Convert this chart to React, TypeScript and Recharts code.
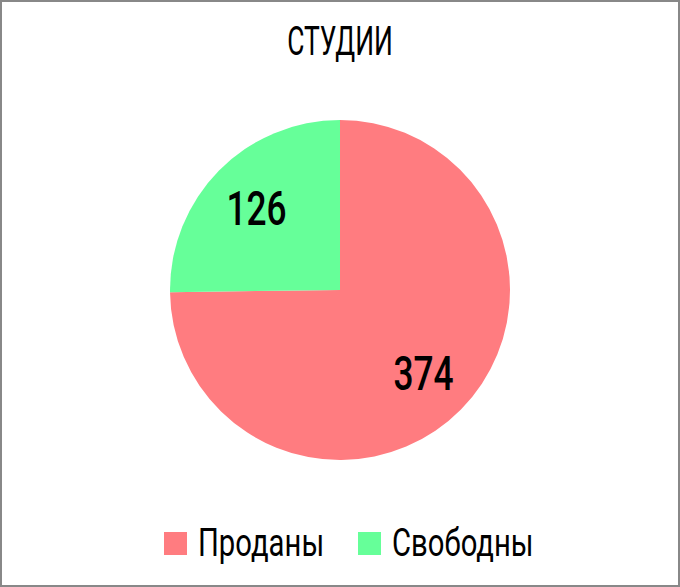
import React from 'react';
import { PieChart, Pie, Cell, Legend } from 'recharts';

const categories = ['Проданы', 'Свободны'];
const values = [374, 126];
const colors = ['#FF7C80', '#66FF99'];
const title = 'СТУДИИ';

// no condensed face installed, so Roboto gets squeezed horizontally
const FONT = 'Roboto, "DejaVu Sans", sans-serif';
const TITLE_SQUEEZE = 0.66;
const LABEL_SQUEEZE = 0.72;
const LEGEND_SQUEEZE = 0.77;
const RADIAN = Math.PI / 180;

const data = categories.map((name, i) => ({ name, value: values[i] }));

const renderLabel = (props: any) => {
  const { cx, cy, midAngle, outerRadius, value } = props;
  const r = outerRadius * 0.69;
  const x = cx + r * Math.cos(-midAngle * RADIAN);
  const y = cy + r * Math.sin(-midAngle * RADIAN);
  return (
    <text transform={`translate(${x},${y}) scale(${LABEL_SQUEEZE},1)`} x={0} y={0}
      textAnchor="middle" dominantBaseline="central"
      fill="#000" fontSize={49} fontWeight={500} fontFamily={FONT}>
      {value}
    </text>
  );
};

const legendWidths = [124, 136];

const renderLegend = (props: any) => {
  const { payload } = props;
  return (
    <div style={{ display: 'flex', justifyContent: 'center', gap: 36, paddingLeft: 12 }}>
      {payload.map((entry: any, i: number) => (
        <div key={`leg-${i}`} style={{ display: 'flex', alignItems: 'center' }}>
          <span style={{ width: 23, height: 23, background: entry.color, marginRight: 11, display: 'inline-block' }} />
          <span style={{ width: legendWidths[i], display: 'inline-block', whiteSpace: 'nowrap' }}>
            <span style={{
              display: 'inline-block', transform: `scaleX(${LEGEND_SQUEEZE})`, transformOrigin: 'left center',
              fontSize: 38, fontFamily: FONT, color: '#000', lineHeight: '40px',
            }}>{entry.value}</span>
          </span>
        </div>
      ))}
    </div>
  );
};

export default function App() {
  return (
    <div style={{
      position: 'absolute', left: 0, top: 0, width: 680, height: 587,
      border: '2px solid #888', boxSizing: 'border-box', background: '#fff',
    }}>
      <div style={{
        position: 'absolute', left: 0, right: 0, top: 16, textAlign: 'center',
        fontSize: 40, fontFamily: FONT, color: '#000', lineHeight: '48px',
        transform: `scaleX(${TITLE_SQUEEZE})`,
      }}>
        {title}
      </div>
      <PieChart width={676} height={583} margin={{ top: 0, right: 0, bottom: 0, left: 0 }}>
        <Pie
          data={data}
          dataKey="value"
          nameKey="name"
          cx={338}
          cy={288}
          outerRadius={170}
          startAngle={90}
          endAngle={-270}
          stroke="none"
          label={renderLabel}
          labelLine={false}
          isAnimationActive={false}
        >
          {data.map((entry, index) => (
            <Cell key={`cell-${index}`} fill={colors[index]} />
          ))}
        </Pie>
        <Legend verticalAlign="bottom" content={renderLegend} wrapperStyle={{ bottom: 22 }} />
      </PieChart>
    </div>
  );
}
